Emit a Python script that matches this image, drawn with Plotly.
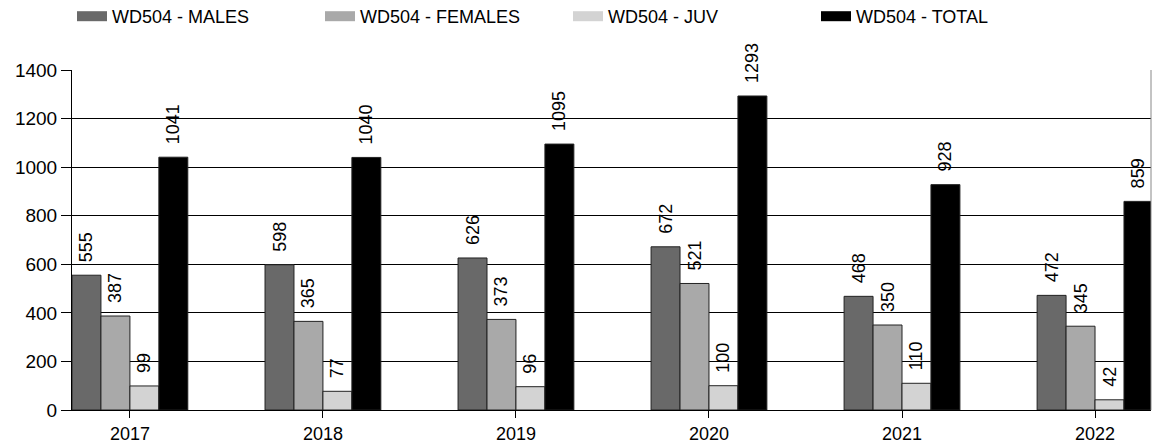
import plotly.graph_objects as go

YEARS = [2017, 2018, 2019, 2020, 2021, 2022]
MALES = [555, 598, 626, 672, 468, 472]
FEMALES = [387, 365, 373, 521, 350, 345]
JUV = [99, 77, 96, 100, 110, 42]
TOTAL = [1041, 1040, 1095, 1293, 928, 859]

SERIES = [
    ("WD504 - MALES", MALES, "#696969"),
    ("WD504 - FEMALES", FEMALES, "#a9a9a9"),
    ("WD504 - JUV", JUV, "#d3d3d3"),
    ("WD504 - TOTAL", TOTAL, "#000000"),
]

FONT = "Liberation Sans, Arial, sans-serif"

fig = go.Figure()
for name, values, color in SERIES:
    fig.add_trace(
        go.Bar(
            x=YEARS,
            y=values,
            name=name,
            showlegend=False,
            marker_color=color,
            marker_line_color="#222222",
            marker_line_width=1,
            text=values,
            texttemplate="\u00a0\u00a0%{text}",
            textposition="outside",
            textangle=-90,
            constraintext="none",
            textfont={"size": 18, "color": "black", "family": FONT},
            cliponaxis=False,
        )
    )

# legend entries drawn as wide rectangles, like the original swatches
for name, values, color in SERIES:
    fig.add_trace(
        go.Scatter(
            x=[None],
            y=[None],
            mode="lines",
            name=name,
            line={"color": color, "width": 16},
        )
    )

fig.update_layout(
    width=1153,
    height=445,
    margin={"l": 72, "r": 2, "t": 70, "b": 35, "autoexpand": False},
    plot_bgcolor="white",
    paper_bgcolor="white",
    font={"family": FONT, "size": 18, "color": "black"},
    barmode="group",
    bargap=0.4,
    bargroupgap=0,
    legend={
        "orientation": "h",
        "x": (72 - 72) / 1079,
        "xanchor": "left",
        "y": 1 + 72 / 340,
        "yanchor": "top",
        "font": {"size": 18},
        "itemwidth": 30,
        "entrywidth": 203,
    },
)

fig.update_xaxes(
    range=[2016.70, 2022.29],
    tickvals=YEARS,
    ticktext=[str(y) for y in YEARS],
    showgrid=False,
    showline=True,
    linecolor="black",
    linewidth=1,
    ticks="outside",
    ticklen=7,
    tickcolor="black",
    zeroline=False,
)

fig.update_yaxes(
    range=[0, 1400],
    dtick=200,
    showgrid=True,
    gridcolor="black",
    gridwidth=1,
    showline=True,
    linecolor="black",
    linewidth=1,
    ticks="outside",
    ticklen=10,
    tickcolor="black",
    tickfont={"size": 19},
    zeroline=False,
)

fig.add_shape(
    type="line", xref="paper", yref="paper", x0=1, x1=1, y0=0, y1=1,
    line={"color": "#888888", "width": 1},
)

fig.write_html(
    "out.html",
    config={"displayModeBar": False},
    post_script="document.body.style.margin='0';",
)
